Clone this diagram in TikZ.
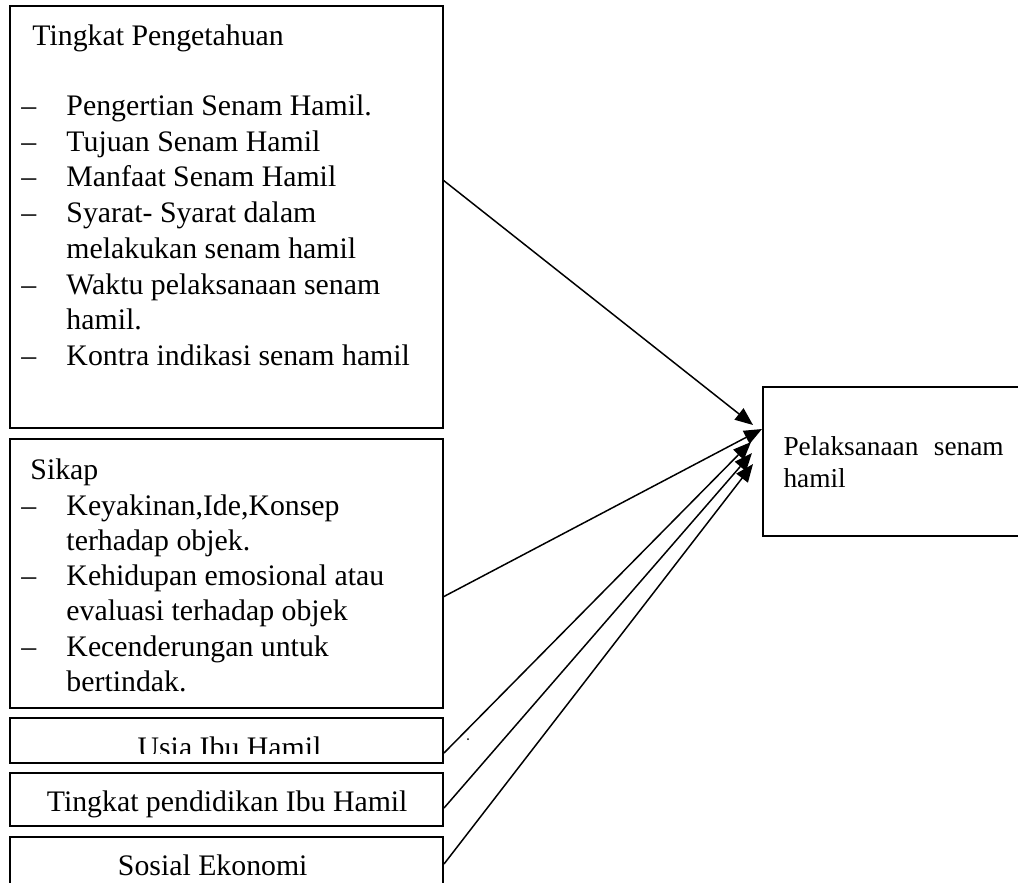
\documentclass[tikz,border=0pt]{standalone}
\usepackage{fontspec}
\setmainfont{Liberation Serif}
\usetikzlibrary{arrows.meta,fit}
\begin{document}
\begin{tikzpicture}[x=0.4027pt,y=-0.4027pt,
  box/.style={draw,line width=0.8pt,inner sep=0pt},
  txt/.style={anchor=base west,inner sep=0pt,font=\fontsize{12}{14}\selectfont},
  txtc/.style={anchor=base,inner sep=0pt,font=\fontsize{12}{14}\selectfont},
  txte/.style={anchor=base east,inner sep=0pt,font=\fontsize{12}{14}\selectfont},
  txts/.style={anchor=base west,inner sep=0pt,font=\fontsize{11}{13}\selectfont},
  arr/.style={line width=0.6pt,-{Triangle[length=7.2pt,width=5.8pt]}}]
\clip (0,0) rectangle (1018,882);
% boxes
\node[box,fit={(10,6)(443,428)}] (know) {};
\node[box,fit={(10,439)(443,708)}] (sikap) {};
\node[box,fit={(10,718)(443,763)}] (usia) {};
\node[box,fit={(10,773)(443,826)}] (didik) {};
\node[box,fit={(10,837)(443,910)}] (sosek) {};
\node[box,fit={(763,387)(1040,536)}] (hasil) {};
% box 1 text
\node[txt] (k0) at (32,45) {Tingkat Pengetahuan};
\node[txt] (kd1) at (21,115.5) {\textendash};
\node[txt] (k1) at (66,115.5) {Pengertian Senam Hamil.};
\node[txt] (kd2) at (21,151.2) {\textendash};
\node[txt] (k2) at (66,151.2) {Tujuan Senam Hamil};
\node[txt] (kd3) at (21,186.9) {\textendash};
\node[txt] (k3) at (66,186.9) {Manfaat Senam Hamil};
\node[txt] (kd4) at (21,222.6) {\textendash};
\node[txt] (k4) at (66,222.6) {Syarat- Syarat dalam};
\node[txt] (k5) at (66,258.3) {melakukan senam hamil};
\node[txt] (kd6) at (21,294) {\textendash};
\node[txt] (k6) at (66,294) {Waktu pelaksanaan senam};
\node[txt] (k7) at (66,329.7) {hamil.};
\node[txt] (kd8) at (21,365.4) {\textendash};
\node[txt] (k8) at (66,365.4) {Kontra indikasi senam hamil};
% box 2 text
\node[txt] (s0) at (30,479) {Sikap};
\node[txt] (sd1) at (21,515) {\textendash};
\node[txt] (s1) at (66,515) {Keyakinan,Ide,Konsep};
\node[txt] (s2) at (66,550.3) {terhadap objek.};
\node[txt] (sd3) at (21,585.6) {\textendash};
\node[txt] (s3) at (66,585.6) {Kehidupan emosional atau};
\node[txt] (s4) at (66,620.9) {evaluasi terhadap objek};
\node[txt] (sd5) at (21,656.2) {\textendash};
\node[txt] (s5) at (66,656.2) {Kecenderungan untuk};
\node[txt] (s6) at (66,691.5) {bertindak.};
% small boxes text
\begin{scope}
\clip (10,718) rectangle (443,753);
\node[txtc] (u0) at (229.5,757) {Usia Ibu Hamil};
\end{scope}
\node[txte] (d0) at (408,811) {Tingkat pendidikan Ibu Hamil};
\node[txte] (e0) at (308,875) {Sosial Ekonomi};
% right box text
\node[txts] (h1) at (783,455) {Pelaksanaan\hspace{6.2pt}senam};
\node[txts] (h2) at (783,487) {hamil};
% stray dot
\fill (468,739) circle (1);
% connector ends
\coordinate (a1) at (443,180);
\coordinate (a2) at (443,597);
\coordinate (a3) at (444,753);
\coordinate (a4) at (444,808);
\coordinate (a5) at (444,864);
\coordinate (b1) at (753,425);
\coordinate (b2) at (762,429);
\coordinate (b3) at (751,442);
\coordinate (b4) at (752,453);
\coordinate (b5) at (753,464);
\draw[arr] (a1) -- (b1);
\draw[arr] (a2) -- (b2);
\draw[arr] (a3) -- (b3);
\draw[arr] (a4) -- (b4);
\draw[arr] (a5) -- (b5);
\end{tikzpicture}
\end{document}
